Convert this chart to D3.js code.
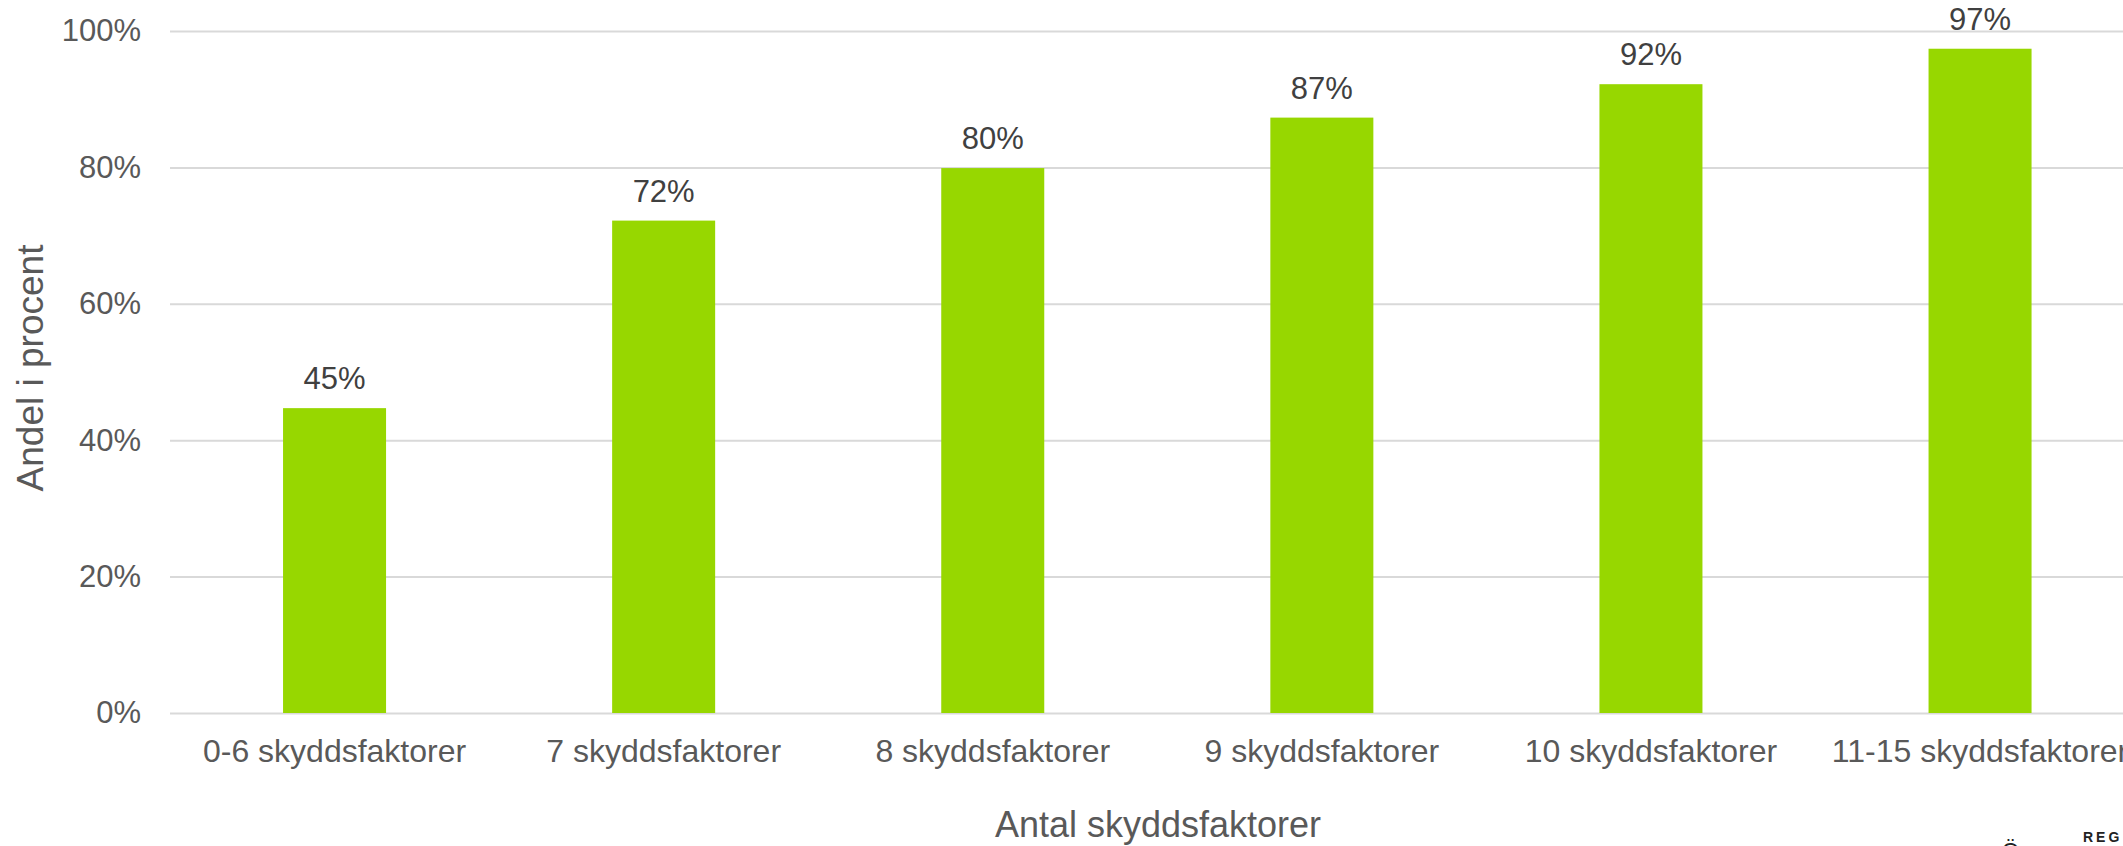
<!DOCTYPE html>
<html>
<head>
<meta charset="utf-8">
<script src="https://cdn.jsdelivr.net/npm/d3@7"></script>
<style>
  body { margin: 0; background: #fff; }
  text { font-family: "Liberation Sans", Arial, sans-serif; }
</style>
</head>
<body>
<script>
// data
var categories = ["0-6 skyddsfaktorer", "7 skyddsfaktorer", "8 skyddsfaktorer",
                  "9 skyddsfaktorer", "10 skyddsfaktorer", "11-15 skyddsfaktorer"];
var values = [0.447, 0.722, 0.799, 0.873, 0.922, 0.974];
var labels = ["45%", "72%", "80%", "87%", "92%", "97%"];
var yTicks = [0, 0.2, 0.4, 0.6, 0.8, 1.0];

// dimensions (plot runs past the right edge, as in the original)
var W = 2123, H = 846;
var plotLeft = 170, plotTop = 31, plotBottom = 713, plotRight = 2144.6;

var svg = d3.select("body").append("svg")
    .attr("width", W)
    .attr("height", H);

var data = categories.map(function(c, i) {
  return {cat: c, val: values[i], lab: labels[i]};
});

// scales
var x = d3.scaleBand()
  .domain(categories)
  .range([plotLeft, plotRight])
  .paddingInner(0.687)
  .paddingOuter(0.3435);

var y = d3.scaleLinear()
  .domain([0, 1])
  .range([plotBottom, plotTop]);

// gridlines + y tick labels
var yAxis = svg.append("g")
  .attr("transform", "translate(" + plotLeft + ",0)")
  .call(d3.axisLeft(y)
    .tickValues(yTicks)
    .tickSize(-(plotRight - plotLeft))
    .tickPadding(29)
    .tickFormat(d3.format(".0%")));
yAxis.select(".domain").remove();
yAxis.selectAll("line").attr("stroke", "#d9d9d9").attr("stroke-width", 2);
yAxis.selectAll("text")
  .attr("fill", "#595959")
  .style("font-size", "31px")
  .style("font-family", "'Liberation Sans', Arial, sans-serif");

// bars
svg.selectAll("rect.bar")
  .data(data)
  .enter()
  .append("rect")
  .attr("class", "bar")
  .attr("x", function(d) { return x(d.cat); })
  .attr("width", x.bandwidth())
  .attr("y", function(d) { return y(d.val); })
  .attr("height", function(d) { return y(0) - y(d.val); })
  .attr("fill", "#97d700");

// value labels
svg.selectAll("text.vlab")
  .data(data)
  .enter()
  .append("text")
  .attr("class", "vlab")
  .attr("x", function(d) { return x(d.cat) + x.bandwidth() / 2; })
  .attr("y", function(d) { return y(d.val) - 19; })
  .attr("text-anchor", "middle")
  .attr("fill", "#404040")
  .style("font-size", "31px")
  .text(function(d) { return d.lab; });

// category axis
var xAxis = svg.append("g")
  .attr("transform", "translate(0," + plotBottom + ")")
  .call(d3.axisBottom(x).tickSize(0));
xAxis.select(".domain").remove();
xAxis.selectAll("text")
  .attr("y", 49)
  .attr("dy", 0)
  .attr("fill", "#595959")
  .style("font-size", "32px")
  .style("font-family", "'Liberation Sans', Arial, sans-serif");

// axis titles
svg.append("text")
  .attr("x", 1158)
  .attr("y", 837)
  .attr("text-anchor", "middle")
  .attr("fill", "#595959")
  .style("font-size", "36px")
  .text("Antal skyddsfaktorer");

svg.append("text")
  .attr("transform", "translate(43,368) rotate(-90)")
  .attr("text-anchor", "middle")
  .attr("fill", "#595959")
  .style("font-size", "37px")
  .text("Andel i procent");

// logo fragment at bottom right
svg.append("text")
  .attr("x", 2083)
  .attr("y", 842)
  .attr("fill", "#222")
  .style("font-size", "14px")
  .style("font-weight", "bold")
  .style("letter-spacing", "3px")
  .text("REG");
svg.append("text")
  .attr("x", 2002)
  .attr("y", 858)
  .attr("fill", "#222")
  .style("font-size", "22px")
  .text("Ö");
</script>
</body>
</html>
